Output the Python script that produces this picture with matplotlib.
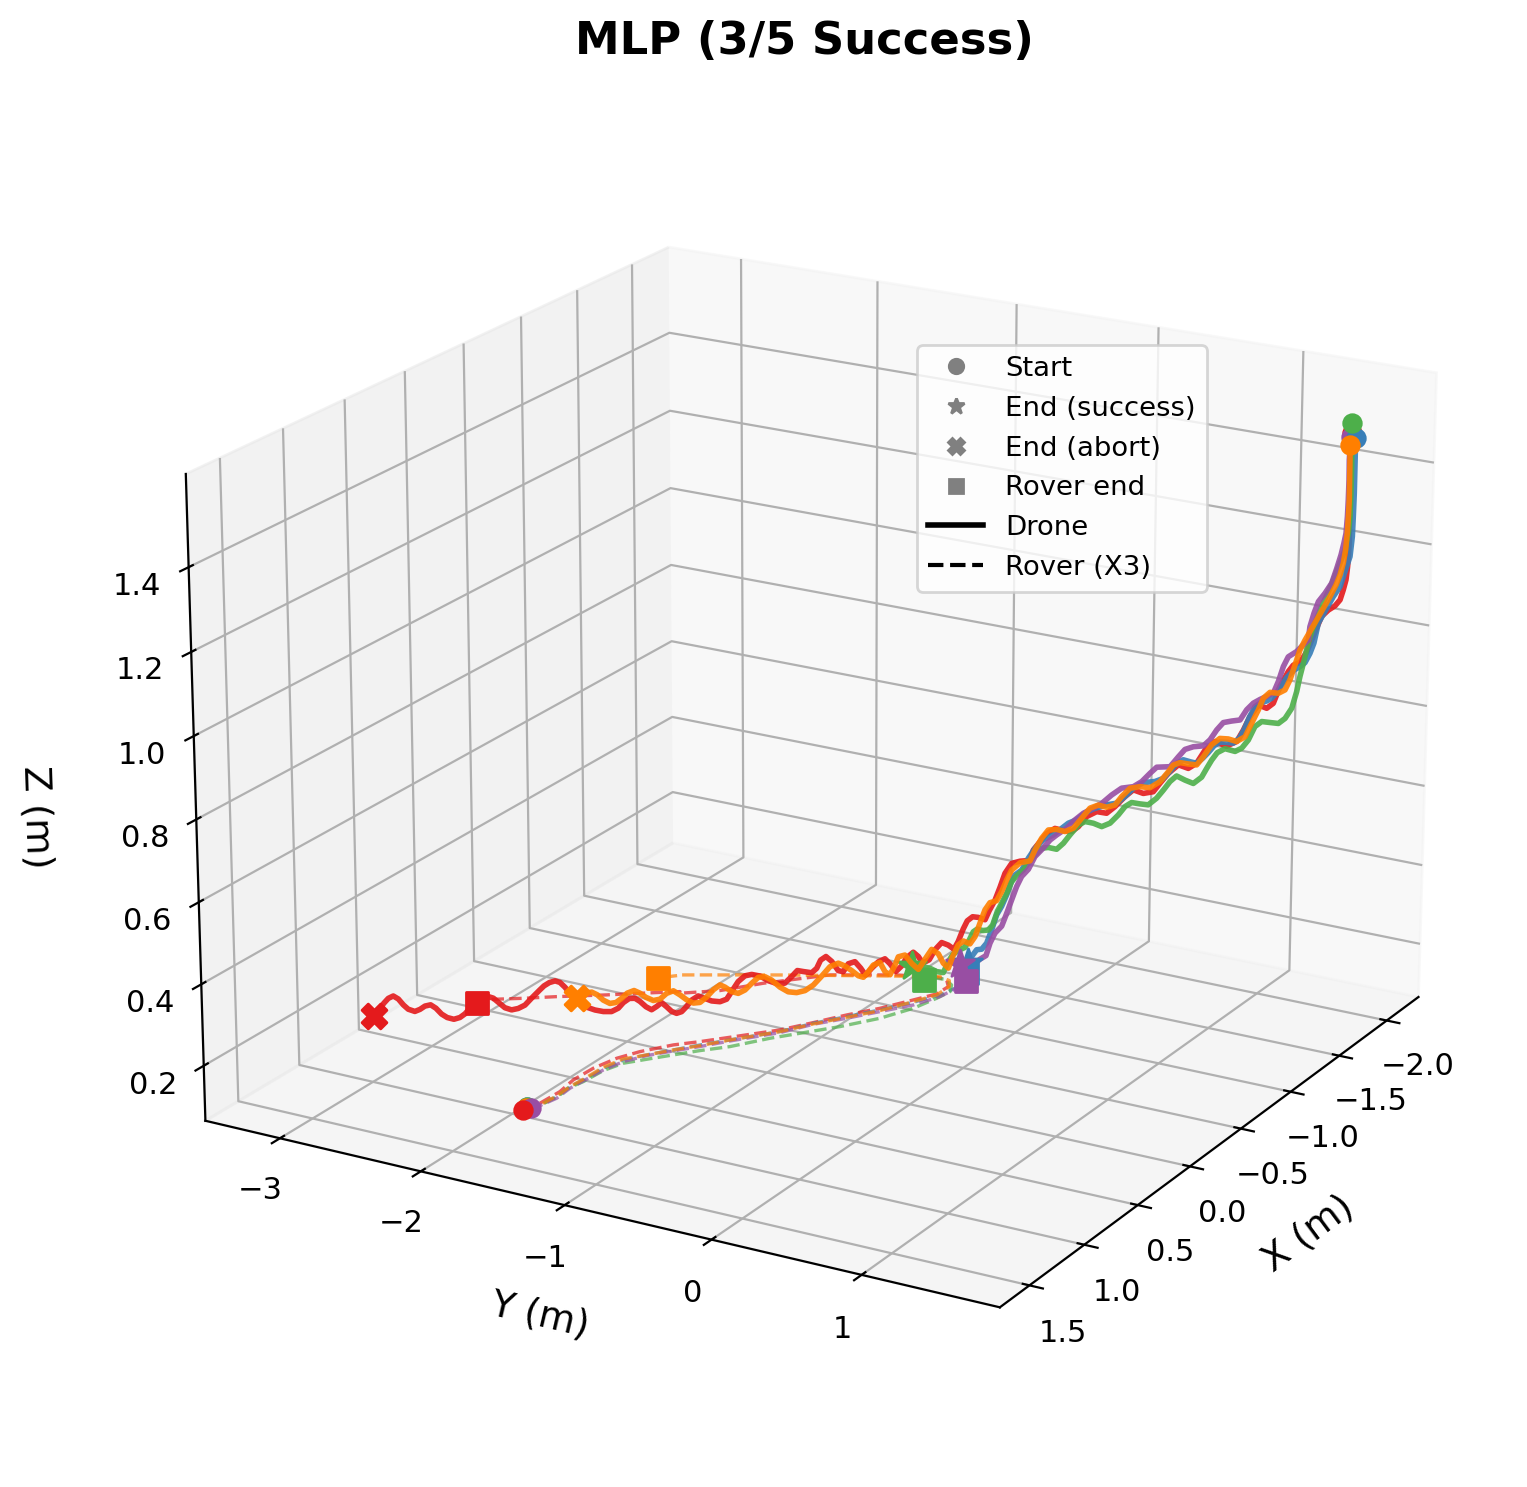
import numpy as np
import matplotlib
matplotlib.use('Agg')
import matplotlib.pyplot as plt
from matplotlib.lines import Line2D

# drone trajectories in millimetres, start -> end
red_x = [-1657,-1656,-1656,-1656,-1657,-1657,-1657,-1657,-1656,-1655,-1653,-1650,-1645,-1639,-1633,-1627,-1624,-1620,-1614,-1607,-1603,-1595,-1589,-1583,-1575,-1567,
    -1561,-1555,-1546,-1534,-1525,-1517,-1509,-1500,-1490,-1482,-1476,-1466,-1457,-1449,-1439,-1431,-1422,-1412,-1404,-1398,-1389,-1381,-1373,-1367,-1360,-1357,
    -1347,-1339,-1333,-1328,-1323,-1318,-1314,-1307,-1301,-1296,-1285,-1268,-1254,-1234,-1212,-1189,-1170,-1148,-1133,-1116,-1093,-1076,-1057,-1037,-1020,-997,
    -975,-954,-938,-918,-896,-879,-862,-840,-820,-802,-789,-772,-744,-724,-705,-682,-660,-626,-598,-570,-548,-525,-503,-486,-464,-436,
    -413,-391,-369,-352,-335,-318,-302,-285,-268,-252,-235,-216,-196,-180,-161,-141,-124,-101,-74,-46,-19,9,34,53,69,85,
    104,122,135,163,186,208,230,252,270,290,306,343,367,384,401,421,443,461,479,497,515,532,549,570,586,602,
    619,635,650,665,683]
red_y = [1780,1776,1774,1777,1780,1781,1782,1780,1776,1768,1753,1735,1705,1665,1625,1587,1568,1539,1499,1459,1429,1380,1341,1301,1249,1199,
    1160,1120,1058,986,925,874,823,761,699,648,607,545,482,431,369,317,254,192,140,98,46,-7,-59,-101,-143,-163,
    -227,-279,-321,-352,-383,-419,-446,-489,-525,-559,-579,-602,-622,-648,-679,-710,-736,-766,-787,-810,-840,-863,-890,-917,-941,-971,
    -1002,-1030,-1053,-1079,-1110,-1133,-1156,-1186,-1212,-1237,-1255,-1278,-1317,-1344,-1370,-1401,-1431,-1477,-1515,-1553,-1584,-1615,-1645,-1668,-1699,-1737,
    -1767,-1798,-1828,-1851,-1874,-1897,-1920,-1942,-1965,-1988,-2011,-2036,-2063,-2086,-2112,-2139,-2162,-2193,-2230,-2268,-2306,-2343,-2377,-2403,-2425,-2447,
    -2473,-2497,-2516,-2554,-2584,-2615,-2645,-2675,-2700,-2726,-2749,-2799,-2832,-2855,-2878,-2905,-2935,-2960,-2985,-3008,-3034,-3056,-3079,-3109,-3130,-3152,
    -3174,-3197,-3217,-3238,-3263]
red_z = [1559,1527,1495,1447,1399,1351,1303,1271,1238,1206,1181,1156,1140,1128,1111,1072,1051,1021,993,985,968,929,886,872,878,847,
    812,782,768,776,752,717,702,708,684,657,634,627,633,614,586,567,568,553,525,511,511,514,498,476,453,426,
    421,413,386,349,315,287,262,266,266,254,234,203,184,196,204,187,163,156,174,186,174,154,141,162,176,170,
    155,139,158,176,172,153,157,182,196,188,168,158,163,167,153,138,137,148,162,168,166,153,129,111,106,110,
    118,126,117,102,90,87,93,106,118,109,102,111,126,135,136,127,114,107,109,115,124,140,161,180,193,198,
    195,188,179,160,144,137,135,142,155,169,174,160,149,136,128,125,131,141,157,167,165,158,154,161,173,189,
    198,193,182,168,151]

blue_x = [-1661,-1661,-1661,-1661,-1660,-1660,-1658,-1654,-1650,-1644,-1638,-1630,-1626,-1623,-1618,-1614,-1608,-1601,-1597,-1592,-1588,-1583,-1577,-1572,-1567,-1562,
    -1558,-1552,-1546,-1539,-1534,-1528,-1523,-1517,-1511,-1504,-1498,-1492,-1486,-1478,-1466,-1457,-1449,-1441,-1431,-1418,-1410,-1402,-1394,-1388,-1380,-1370,
    -1362,-1356,-1349,-1343,-1339,-1335,-1330,-1325,-1320,-1315,-1311,-1306,-1301,-1298]
blue_y = [1805,1805,1805,1805,1803,1800,1789,1761,1733,1693,1655,1606,1582,1559,1530,1500,1460,1420,1390,1360,1330,1300,1263,1229,1195,1164,
    1136,1099,1058,1017,980,946,911,874,833,791,750,709,668,617,544,482,431,379,316,233,181,129,77,35,-17,-80,
    -132,-174,-215,-257,-285,-309,-341,-372,-403,-434,-466,-498,-530,-551]
blue_z = [1548,1520,1480,1416,1360,1312,1263,1226,1188,1162,1132,1094,1044,1018,994,983,972,953,933,913,898,890,884,873,845,813,
    791,777,777,776,765,747,731,717,719,722,711,689,670,660,654,637,614,595,588,574,561,542,531,516,497,482,
    458,431,399,385,362,332,301,278,238,203,186,183,164,146]

green_x = [-1657,-1657,-1658,-1658,-1657,-1656,-1653,-1648,-1643,-1637,-1633,-1629,-1625,-1622,-1620,-1617,-1614,-1611,-1607,-1601,-1594,-1586,-1579,-1572,-1566,-1560,
    -1554,-1544,-1537,-1532,-1527,-1522,-1514,-1506,-1498,-1492,-1486,-1479,-1471,-1463,-1455,-1449,-1443,-1435,-1427,-1419,-1410,-1404,-1396,-1390,-1383,-1375,
    -1369,-1362,-1356,-1351,-1344,-1340,-1335,-1330,-1326,-1321,-1317,-1311,-1306,-1302,-1298,-1291,-1269,-1249,-1235,-1218,-1195,-1173,-1156,-1133,-1110]
green_y = [1783,1784,1785,1785,1783,1775,1757,1725,1691,1653,1624,1599,1576,1551,1538,1520,1501,1483,1455,1415,1375,1323,1272,1231,1192,1152,
    1111,1048,1001,967,937,907,856,804,751,710,670,629,577,525,473,432,390,339,287,234,182,140,88,47,5,-48,
    -90,-132,-174,-205,-247,-278,-309,-341,-368,-397,-424,-460,-495,-520,-545,-571,-601,-628,-647,-670,-701,-732,-755,-786,-817]
green_z = [1583,1535,1480,1416,1359,1319,1278,1240,1202,1164,1135,1109,1084,1051,1026,992,959,921,879,852,838,838,838,824,789,767,
    757,761,749,729,707,684,666,672,680,664,641,619,600,600,601,589,566,543,532,538,540,529,502,479,462,464,
    460,441,418,400,383,367,336,309,287,251,237,234,236,228,206,186,180,170,154,127,131,141,145,146,151]

purple_x = [-1656,-1655,-1656,-1655,-1655,-1654,-1652,-1650,-1646,-1642,-1636,-1630,-1626,-1622,-1621,-1616,-1610,-1602,-1598,-1594,-1589,-1583,-1577,-1570,-1564,-1558,
    -1550,-1542,-1536,-1530,-1523,-1514,-1506,-1500,-1492,-1479,-1473,-1465,-1457,-1445,-1436,-1426,-1418,-1409,-1401,-1393,-1383,-1377,-1370,-1362,-1356,-1349,
    -1344,-1340,-1335,-1330,-1324,-1319,-1315,-1309,-1303,-1297,-1274]
purple_y = [1775,1770,1771,1770,1767,1761,1750,1734,1710,1681,1642,1603,1578,1555,1547,1517,1477,1427,1398,1369,1340,1299,1259,1218,1178,1138,
    1086,1035,995,955,914,852,800,760,709,626,585,534,482,409,347,285,233,170,118,67,4,-38,-80,-132,-173,-215,
    -246,-277,-308,-339,-382,-413,-438,-476,-514,-557,-593]
purple_z = [1551,1495,1447,1399,1359,1318,1294,1265,1231,1194,1168,1146,1117,1083,1050,1037,1019,1004,979,941,911,901,892,881,863,836,
    831,825,805,779,762,757,748,728,701,696,679,656,641,634,614,590,576,560,541,518,498,483,461,437,403,383,
    356,321,285,251,231,204,171,160,146,144,145]

orange_x = [-1656,-1656,-1656,-1656,-1656,-1655,-1654,-1652,-1649,-1646,-1640,-1634,-1628,-1622,-1618,-1613,-1609,-1605,-1600,-1594,-1586,-1580,-1575,-1569,-1563,-1555,
    -1547,-1539,-1531,-1524,-1517,-1509,-1501,-1495,-1490,-1482,-1473,-1463,-1454,-1446,-1439,-1431,-1423,-1415,-1407,-1399,-1391,-1383,-1375,-1368,-1362,-1357,
    -1348,-1339,-1335,-1330,-1325,-1318,-1314,-1309,-1304,-1299,-1285,-1268,-1249,-1235,-1218,-1201,-1178,-1155,-1133,-1110,-1087,-1065,-1054,-1037,-1020,-1003,
    -980,-963,-947,-930,-907,-885,-862,-834,-806,-778,-750,-721,-693,-665,-637,-615,-593,-570,-548,-525,-503,-481,-464,-442,-419,-397,
    -374,-352,-330,-308,-285,-263,-241,-216,-196,-177,-154,-135,-116,-96,-74,-54,-36,-14,14]
orange_y = [1772,1774,1775,1776,1773,1769,1761,1749,1731,1708,1673,1634,1595,1556,1527,1498,1469,1440,1411,1371,1319,1279,1250,1210,1171,1120,
    1068,1016,965,915,875,823,771,729,699,648,586,524,461,410,369,317,264,212,160,109,56,3,-49,-91,-132,-163,
    -226,-279,-310,-341,-373,-415,-447,-478,-509,-541,-578,-602,-627,-647,-671,-694,-725,-756,-786,-817,-848,-879,-894,-917,-940,-964,
    -994,-1017,-1040,-1063,-1094,-1125,-1156,-1194,-1232,-1271,-1309,-1347,-1386,-1424,-1462,-1492,-1523,-1554,-1584,-1615,-1645,-1676,-1698,-1729,-1760,-1790,
    -1821,-1851,-1881,-1911,-1942,-1972,-2003,-2036,-2063,-2090,-2121,-2147,-2172,-2200,-2230,-2257,-2282,-2313,-2350]
orange_z = [1531,1495,1447,1399,1359,1319,1278,1245,1216,1191,1161,1131,1101,1071,1049,1024,986,948,922,912,912,896,866,831,796,782,
    786,785,767,735,713,713,714,706,688,661,643,643,636,613,590,582,585,575,547,520,509,512,508,485,454,425,
    417,396,370,339,314,307,287,252,216,196,203,194,166,137,151,176,189,165,141,158,181,178,158,134,143,168,
    163,147,134,139,154,167,176,169,147,126,114,111,115,129,149,159,159,145,130,123,129,142,149,138,121,109,
    109,119,133,145,140,127,125,135,147,155,150,138,129,128,138,153,161,160,149]

# rover trajectories, start -> end
rover_red_x = [1081,977,815,667,502,346,224,77,-19,-134,-328,-483,-643,-793,-962,-1083,-1191,-1261,-1267,-1198,-1041,-792,-610,-487,-505,-393,
    -297,-161,-65,16,97]
rover_red_y = [-1853,-1822,-1814,-1841,-1833,-1793,-1726,-1605,-1491,-1368,-1162,-1045,-929,-805,-694,-617,-614,-678,-754,-990,-1352,-1642,-1814,-2007,-2021,-2222,
    -2388,-2642,-2807,-2960,-3014]
rover_blue_x = [1047,994,873,742,644,480,348,243,129,16,-106,-310,-476,-625,-775,-936,-1079,-1188,-1282,-1384]
rover_blue_y = [-1858,-1808,-1790,-1803,-1788,-1780,-1744,-1663,-1563,-1463,-1346,-1149,-1039,-916,-792,-675,-591,-565,-574,-620]
rover_green_x = [1045,997,879,749,661,503,382,288,181,75,-36,-216,-502,-685,-871,-1035,-1140,-1217,-1264,-1256,-1207]
rover_green_y = [-1854,-1805,-1784,-1797,-1774,-1761,-1717,-1627,-1522,-1417,-1291,-1147,-870,-724,-626,-582,-564,-610,-692,-746,-800]
rover_purple_x = [1048,1000,889,759,654,497,365,250,140,33,-95,-299,-465,-607,-757,-907,-1061,-1166,-1292]
rover_purple_y = [-1829,-1802,-1776,-1789,-1780,-1766,-1730,-1657,-1555,-1450,-1337,-1140,-1031,-902,-778,-653,-578,-560,-562]
rover_orange_x = [1055,994,866,742,637,469,338,243,129,23,-106,-310,-469,-618,-768,-944,-1072,-1193,-1260,-1282,-1148,-922,-765,-686,-682,-640,
    -598]
rover_orange_y = [-1856,-1808,-1795,-1803,-1794,-1789,-1753,-1663,-1563,-1458,-1346,-1149,-1034,-910,-786,-681,-609,-609,-658,-741,-1072,-1623,-1985,-2166,-2163,-2214,
    -2254]
rover_z = 0.1

W, H = 1527, 1487
fig = plt.figure(figsize=(W/200, H/200), dpi=200)
ax = fig.add_axes([105/W, 23/H, 1400.5/W, 1400.5/H], projection='3d')
ax.computed_zorder = False

# colour, drone, rover, abort?, line / end marker / drone start / rover start layers
trials = [
    ('#e41a1c', (red_x, red_y, red_z), (rover_red_x, rover_red_y), True, 2.0, 5.0, 6.0, 7.4),
    ('#377eb8', (blue_x, blue_y, blue_z), (rover_blue_x, rover_blue_y), False, 2.1, 3.0, 6.2, 7.0),
    ('#4daf4a', (green_x, green_y, green_z), (rover_green_x, rover_green_y), False, 2.2, 3.1, 6.3, 7.1),
    ('#984ea3', (purple_x, purple_y, purple_z), (rover_purple_x, rover_purple_y), False, 2.3, 3.2, 6.1, 7.3),
    ('#ff7f00', (orange_x, orange_y, orange_z), (rover_orange_x, rover_orange_y), True, 4.0, 5.1, 6.4, 7.2),
]

for i, (color, drone, rover, abort, z_line, z_end, z_start, z_rstart) in enumerate(trials):
    dx, dy, dz = [np.array(v) / 1000 for v in drone]
    rx, ry = [np.array(v) / 1000 for v in rover]
    ax.plot(rx, ry, rover_z, color=color, lw=1.2, ls='--', alpha=0.7, zorder=1 + i * 0.1)
    ax.plot(dx, dy, dz, color=color, lw=2, alpha=0.9, zorder=z_line)
    ax.scatter(dx[0], dy[0], dz[0], color=color, marker='o', s=40, depthshade=False, zorder=z_start)
    ax.scatter(rx[0], ry[0], rover_z, color=color, marker='o', s=40, depthshade=False, zorder=z_rstart)
    if abort:
        ax.scatter(dx[-1], dy[-1], dz[-1], color=color, marker='X', s=80, depthshade=False, zorder=z_end)
    else:
        ax.scatter(dx[-1], dy[-1], dz[-1], color=color, marker='*', s=110, depthshade=False, zorder=z_end)
    ax.scatter(rx[-1], ry[-1], rover_z, color=color, marker='s', s=60, depthshade=False, zorder=z_end)

ax.view_init(elev=20, azim=30)
ax.set_xlim(-2.341, 1.765, view_margin=0)
ax.set_ylim(-3.538, 1.902, view_margin=0)
ax.set_zlim(0.064, 1.618, view_margin=0)
ax.set_zticks([0.2, 0.4, 0.6, 0.8, 1.0, 1.2, 1.4])
ax.tick_params(labelsize=11, pad=2.5)
ax.set_xlabel('X (m)', fontsize=13.5, labelpad=8)
ax.set_ylabel('Y (m)', fontsize=13.5, labelpad=7)
ax.set_zlabel('Z (m)', fontsize=13.5, labelpad=11.5)

handles = [
    Line2D([], [], color='gray', marker='o', ls='', markersize=5.2, label='Start'),
    Line2D([], [], color='gray', marker='*', ls='', markersize=6, label='End (success)'),
    Line2D([], [], color='gray', marker='X', ls='', markersize=6, label='End (abort)'),
    Line2D([], [], color='gray', marker='s', ls='', markersize=5, label='Rover end'),
    Line2D([], [], color='black', lw=2, label='Drone'),
    Line2D([], [], color='black', lw=1.5, ls='--', label='Rover (X3)'),
]
ax.legend(handles=handles, loc='upper left', bbox_to_anchor=(917/W, 1-345/H), bbox_transform=fig.transFigure,
          borderaxespad=0, fontsize=9.9, labelspacing=0.5)

fig.text(804.5/W, 1-42/H, 'MLP (3/5 Success)', fontsize=16.15, fontweight='bold', ha='center', va='center')

fig.savefig('out.png')
